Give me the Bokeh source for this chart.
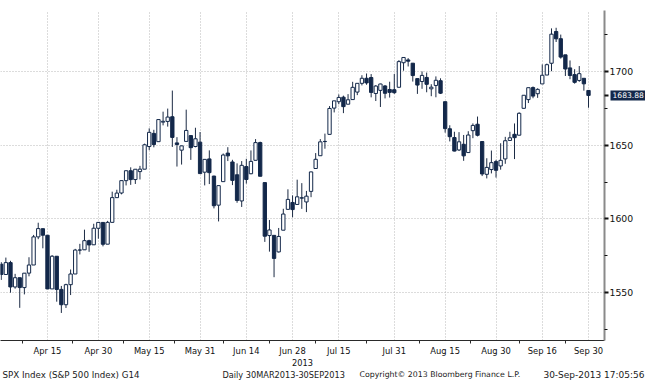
from bokeh.plotting import figure
from bokeh.models import FixedTicker, Range1d, Label, ColumnDataSource
from bokeh.layouts import column
from bokeh.embed import file_html
from bokeh.resources import INLINE
from bokeh.core.properties import value

# ---- data (S&P 500 daily OHLC, Apr-Sep 2013) ----
dates = [
    "2013-04-01", "2013-04-02", "2013-04-03", "2013-04-04", "2013-04-05",
    "2013-04-08", "2013-04-09", "2013-04-10", "2013-04-11", "2013-04-12",
    "2013-04-15", "2013-04-16", "2013-04-17", "2013-04-18", "2013-04-19",
    "2013-04-22", "2013-04-23", "2013-04-24", "2013-04-25", "2013-04-26",
    "2013-04-29", "2013-04-30",
    "2013-05-01", "2013-05-02", "2013-05-03", "2013-05-06", "2013-05-07",
    "2013-05-08", "2013-05-09", "2013-05-10", "2013-05-13", "2013-05-14",
    "2013-05-15", "2013-05-16", "2013-05-17", "2013-05-20", "2013-05-21",
    "2013-05-22", "2013-05-23", "2013-05-24", "2013-05-28", "2013-05-29",
    "2013-05-30", "2013-05-31",
    "2013-06-03", "2013-06-04", "2013-06-05", "2013-06-06", "2013-06-07",
    "2013-06-10", "2013-06-11", "2013-06-12", "2013-06-13", "2013-06-14",
    "2013-06-17", "2013-06-18", "2013-06-19", "2013-06-20", "2013-06-21",
    "2013-06-24", "2013-06-25", "2013-06-26", "2013-06-27", "2013-06-28",
    "2013-07-01", "2013-07-02", "2013-07-03", "2013-07-05", "2013-07-08",
    "2013-07-09", "2013-07-10", "2013-07-11", "2013-07-12", "2013-07-15",
    "2013-07-16", "2013-07-17", "2013-07-18", "2013-07-19", "2013-07-22",
    "2013-07-23", "2013-07-24", "2013-07-25", "2013-07-26", "2013-07-29",
    "2013-07-30", "2013-07-31",
    "2013-08-01", "2013-08-02", "2013-08-05", "2013-08-06", "2013-08-07",
    "2013-08-08", "2013-08-09", "2013-08-12", "2013-08-13", "2013-08-14",
    "2013-08-15", "2013-08-16", "2013-08-19", "2013-08-20", "2013-08-21",
    "2013-08-22", "2013-08-23", "2013-08-26", "2013-08-27", "2013-08-28",
    "2013-08-29", "2013-08-30",
    "2013-09-03", "2013-09-04", "2013-09-05", "2013-09-06", "2013-09-09",
    "2013-09-10", "2013-09-11", "2013-09-12", "2013-09-13", "2013-09-16",
    "2013-09-17", "2013-09-18", "2013-09-19", "2013-09-20", "2013-09-23",
    "2013-09-24", "2013-09-25", "2013-09-26", "2013-09-27", "2013-09-30",
]

opens = [
    1569.18, 1562.17, 1570.25, 1553.69, 1559.98, 1553.26, 1563.11, 1568.61, 1587.73, 1593.30,
    1588.84, 1552.36, 1574.57, 1552.03, 1541.61, 1555.25, 1562.50, 1578.78, 1578.93, 1585.16,
    1582.34, 1593.58,
    1597.55, 1582.77, 1597.60, 1614.40, 1617.55, 1625.95, 1632.69, 1626.69, 1632.10, 1633.75,
    1649.13, 1658.07, 1652.45, 1665.71, 1666.20, 1669.39, 1651.62, 1646.67, 1652.63, 1656.57,
    1649.14, 1652.13,
    1631.71, 1640.73, 1629.05, 1609.29, 1625.27, 1644.67, 1638.64, 1629.94, 1612.15, 1635.52,
    1630.64, 1639.77, 1651.83, 1624.62, 1588.62, 1588.77, 1577.52, 1592.27, 1606.44, 1611.12,
    1609.78, 1614.29, 1611.48, 1618.65, 1634.20, 1642.89, 1652.50, 1657.41, 1675.26, 1679.59,
    1682.70, 1677.91, 1681.05, 1686.15, 1692.09, 1695.53, 1696.06, 1685.21, 1687.31, 1690.32,
    1687.92, 1687.76,
    1689.42, 1706.10, 1708.01, 1705.79, 1695.30, 1693.35, 1696.10, 1688.37, 1690.65, 1693.88,
    1679.61, 1661.22, 1655.25, 1646.81, 1650.66, 1645.03, 1659.92, 1664.29, 1652.54, 1630.25,
    1633.50, 1638.89,
    1635.95, 1640.72, 1653.28, 1657.44, 1656.85, 1675.11, 1681.04, 1689.21, 1685.04, 1691.70,
    1697.73, 1705.74, 1727.34, 1722.44, 1711.44, 1702.60, 1698.02, 1694.05, 1695.52, 1687.26,
]

highs = [
    1570.57, 1573.66, 1571.47, 1562.60, 1559.98, 1563.07, 1573.89, 1589.07, 1597.35, 1593.30,
    1588.84, 1575.35, 1574.57, 1554.38, 1555.89, 1565.55, 1579.58, 1583.00, 1592.64, 1585.78,
    1596.65, 1597.57,
    1597.55, 1598.60, 1618.46, 1619.77, 1626.03, 1632.78, 1635.01, 1633.70, 1636.00, 1651.10,
    1661.49, 1660.51, 1667.47, 1672.84, 1674.93, 1687.18, 1655.50, 1649.78, 1674.21, 1656.57,
    1661.91, 1658.99,
    1640.42, 1646.53, 1629.31, 1622.56, 1644.40, 1648.69, 1640.13, 1637.71, 1639.25, 1640.80,
    1646.50, 1654.19, 1652.45, 1624.62, 1599.19, 1588.77, 1593.79, 1606.83, 1620.07, 1615.94,
    1626.61, 1624.26, 1618.97, 1632.07, 1644.68, 1654.18, 1657.92, 1676.63, 1680.19, 1684.51,
    1683.73, 1684.75, 1693.12, 1692.09, 1697.61, 1698.78, 1698.38, 1690.94, 1691.85, 1690.92,
    1693.19, 1698.43,
    1707.85, 1709.67, 1709.24, 1705.79, 1695.30, 1700.18, 1699.42, 1691.49, 1696.81, 1695.52,
    1679.61, 1663.60, 1659.18, 1658.92, 1656.99, 1659.55, 1664.85, 1669.51, 1652.54, 1641.18,
    1646.41, 1640.08,
    1651.35, 1655.72, 1659.17, 1664.83, 1672.40, 1684.09, 1689.13, 1689.97, 1688.73, 1704.95,
    1705.52, 1729.44, 1729.86, 1725.23, 1711.44, 1707.63, 1701.71, 1703.85, 1695.52, 1687.26,
]

lows = [
    1558.47, 1562.17, 1549.80, 1552.52, 1539.50, 1548.63, 1560.92, 1568.61, 1586.17, 1579.97,
    1552.28, 1552.36, 1543.69, 1536.03, 1539.40, 1548.19, 1562.50, 1575.80, 1578.93, 1577.56,
    1582.34, 1586.50,
    1581.28, 1582.77, 1597.60, 1614.21, 1616.64, 1622.70, 1623.09, 1623.71, 1626.74, 1633.75,
    1646.68, 1648.60, 1652.45, 1663.52, 1662.67, 1648.86, 1635.53, 1636.88, 1652.63, 1640.05,
    1648.61, 1630.74,
    1622.72, 1623.62, 1607.09, 1598.23, 1625.27, 1639.26, 1622.92, 1610.92, 1608.07, 1623.96,
    1630.34, 1639.77, 1628.91, 1584.32, 1577.70, 1560.33, 1577.09, 1592.27, 1606.44, 1601.06,
    1609.78, 1606.77, 1604.57, 1614.71, 1634.20, 1642.89, 1647.66, 1657.41, 1672.33, 1677.89,
    1671.84, 1677.91, 1681.05, 1684.08, 1690.67, 1691.13, 1682.57, 1680.07, 1676.03, 1681.86,
    1682.42, 1684.94,
    1689.42, 1700.68, 1703.55, 1693.29, 1684.91, 1688.38, 1686.02, 1683.35, 1682.62, 1684.83,
    1658.59, 1652.61, 1645.84, 1646.08, 1639.43, 1645.03, 1654.81, 1656.02, 1629.05, 1627.47,
    1630.88, 1628.05,
    1633.41, 1637.41, 1653.07, 1640.62, 1656.85, 1675.11, 1678.70, 1681.96, 1682.22, 1691.70,
    1697.73, 1700.35, 1720.20, 1708.89, 1697.10, 1694.90, 1691.88, 1693.11, 1687.11, 1675.50,
]

closes = [
    1562.17, 1570.25, 1553.69, 1559.98, 1553.28, 1563.07, 1568.61, 1587.73, 1593.37, 1588.85,
    1552.36, 1574.57, 1552.01, 1541.61, 1555.25, 1562.50, 1578.78, 1578.79, 1585.16, 1582.24,
    1593.61, 1597.57,
    1582.70, 1597.59, 1614.42, 1617.50, 1625.96, 1632.69, 1626.67, 1633.70, 1633.77, 1650.34,
    1658.78, 1650.47, 1667.47, 1666.29, 1669.16, 1655.35, 1650.51, 1649.60, 1660.06, 1648.36,
    1654.41, 1630.74,
    1640.42, 1631.38, 1608.90, 1622.56, 1643.38, 1642.81, 1626.13, 1612.52, 1636.36, 1626.73,
    1639.04, 1651.81, 1628.93, 1588.19, 1592.43, 1573.09, 1588.03, 1603.26, 1613.20, 1606.28,
    1614.96, 1614.08, 1615.41, 1631.89, 1640.46, 1652.32, 1652.62, 1675.02, 1680.19, 1682.50,
    1676.26, 1680.91, 1689.37, 1692.09, 1695.53, 1692.39, 1685.94, 1690.25, 1691.65, 1685.33,
    1685.96, 1685.73,
    1706.87, 1709.67, 1707.14, 1697.37, 1690.91, 1697.48, 1691.42, 1689.47, 1694.16, 1685.39,
    1661.32, 1655.83, 1646.06, 1652.35, 1642.80, 1656.96, 1663.50, 1656.78, 1630.48, 1634.96,
    1638.17, 1632.97,
    1639.77, 1653.08, 1655.08, 1655.17, 1671.71, 1683.99, 1689.13, 1683.42, 1687.99, 1697.60,
    1704.76, 1725.52, 1722.34, 1709.91, 1701.84, 1697.42, 1692.77, 1698.67, 1691.75, 1683.88,
]

x_tick_dates = ["2013-04-15", "2013-04-30", "2013-05-15", "2013-05-31", "2013-06-14", "2013-06-28",
                "2013-07-15", "2013-07-31", "2013-08-15", "2013-08-30", "2013-09-16", "2013-09-30"]
x_tick_labels = ["Apr 15", "Apr 30", "May 15", "May 31", "Jun 14", "Jun 28",
                 "Jul 15", "Jul 31", "Aug 15", "Aug 30", "Sep 16", "Sep 30"]
y_ticks = [1550, 1600, 1650, 1700]
y_minor_ticks = [1525, 1575, 1625, 1675, 1725]
last_price = closes[-1]
year_label = "2013"

footer_texts = ["SPX Index (S&P 500 Index) G14", "Daily 30MAR2013-30SEP2013",
                "Copyright\u00a9 2013 Bloomberg Finance L.P.", "30-Sep-2013 17:05:56"]

# ---- styling / layout ----
NAVY = "#13284a"
WICK = "#1c2b44"
GRID = "#b9b9b9"
FONT = "DejaVu Sans"

W = 645
FRAME_W = 604
TOP = 10
FRAME_BOTTOM = 343
BOTTOM = 25
MAIN_H = FRAME_BOTTOM + BOTTOM
FOOT_H = 380 - MAIN_H

idx = list(range(len(dates)))
up = [i for i in idx if closes[i] >= opens[i]]
dn = [i for i in idx if closes[i] < opens[i]]

src_all = ColumnDataSource(dict(x=idx, lo=lows, hi=highs))
src_up = ColumnDataSource(dict(x=up, top=[closes[i] for i in up], bot=[opens[i] for i in up]))
src_dn = ColumnDataSource(dict(x=dn, top=[opens[i] for i in dn], bot=[closes[i] for i in dn]))

p = figure(width=W, height=MAIN_H, output_backend="svg", toolbar_location=None,
           x_range=Range1d(-0.16, 130.46), y_range=Range1d(1517.3, 1741.6),
           y_axis_location="right",
           min_border_left=0, min_border_top=TOP,
           min_border_right=W - FRAME_W, min_border_bottom=BOTTOM)
p.outline_line_color = None
p.background_fill_color = "white"
p.border_fill_color = "white"

tick_idx = [dates.index(d) for d in x_tick_dates]
steps = [b - a for a, b in zip(tick_idx[:-1], tick_idx[1:])]
minor_idx = [tick_idx[0] - steps[0] / 2] + [a + s / 2 for a, s in zip(tick_idx[:-1], steps)]

# grids
p.xgrid.ticker = FixedTicker(ticks=tick_idx)
p.ygrid.ticker = FixedTicker(ticks=y_ticks)
for g in (p.xgrid, p.ygrid):
    g.grid_line_color = GRID
    g.grid_line_dash = "1 2"
    g.grid_line_width = 1

# x axis
xa = p.xaxis[0]
xa.ticker = FixedTicker(ticks=tick_idx, minor_ticks=minor_idx)
xa.major_label_overrides = {t: lab for t, lab in zip(tick_idx, x_tick_labels)}
xa.axis_line_color = "#2a2a2a"
xa.axis_line_width = 1
xa.major_tick_out = 0
xa.major_tick_in = 0
xa.minor_tick_out = 3
xa.minor_tick_in = 0
xa.minor_tick_line_color = "#2a2a2a"
xa.major_label_standoff = 2
xa.major_label_text_font = FONT
xa.major_label_text_font_size = "8.4px"
xa.major_label_text_color = "#111111"
xa.axis_label = year_label
xa.axis_label_standoff = 0
xa.axis_label_text_font = FONT
xa.axis_label_text_font_size = "8.2px"
xa.axis_label_text_font_style = "normal"
xa.axis_label_text_color = "#111111"

# y axis (right); an unlabelled major tick at the last price acts as the tag's pointer
ya = p.yaxis[0]
ya.ticker = FixedTicker(ticks=y_ticks + [last_price], minor_ticks=y_minor_ticks)
ya.major_label_overrides = {last_price: ""}
ya.axis_line_color = "#8a8a8a"
ya.axis_line_width = 2
ya.major_tick_out = 4
ya.major_tick_in = 0
ya.major_tick_line_width = 2
ya.major_tick_line_color = "#111111"
ya.minor_tick_out = 3
ya.minor_tick_in = 0
ya.minor_tick_line_color = "#111111"
ya.major_label_standoff = 1
ya.major_label_text_font = FONT
ya.major_label_text_font_size = "9.3px"
ya.major_label_text_color = "#111111"

# candles
p.segment(x0="x", y0="lo", x1="x", y1="hi", source=src_all, line_color=WICK, line_width=1)
p.vbar(x="x", top="top", bottom="bot", width=0.72, source=src_up,
       fill_color="white", line_color=NAVY, line_width=1)
p.vbar(x="x", top="top", bottom="bot", width=0.72, source=src_dn,
       fill_color=NAVY, line_color=NAVY, line_width=1)

# last price tag (side panel so it is not clipped to the frame)
p.add_layout(Label(x=FRAME_W + 6, y=last_price, x_units="screen", y_units="data",
                   text=f"{last_price:.2f}", text_color="white", text_font=FONT,
                   text_font_size="7.6px", text_baseline="middle", text_align="left",
                   background_fill_color=NAVY, padding=2), "above")

# footer line
f = figure(frame_width=W, frame_height=FOOT_H, output_backend="svg", toolbar_location=None,
           x_range=Range1d(0, W), y_range=Range1d(FOOT_H, 0),
           min_border_left=0, min_border_right=0, min_border_top=0, min_border_bottom=0)
f.outline_line_color = None
f.axis.visible = False
f.grid.visible = False
fy = FOOT_H / 2
foot_x = [2, 222, 359]
foot_sizes = ["8.7px", "8.2px", "7.8px"]
for x0, t, s in zip(foot_x, footer_texts[:3], foot_sizes):
    f.text(x=[x0], y=[fy], text=[t], text_font=value(FONT), text_font_size=value(s),
           text_color="#1a1a1a", text_baseline="middle", text_align="left")
f.text(x=[W - 1], y=[fy], text=footer_texts[3:], text_font=value(FONT),
       text_font_size=value("9px"), text_color="#1a1a1a",
       text_baseline="middle", text_align="right")

layout = column(p, f, spacing=0)
open("out.html", "w").write(file_html(layout, INLINE))
